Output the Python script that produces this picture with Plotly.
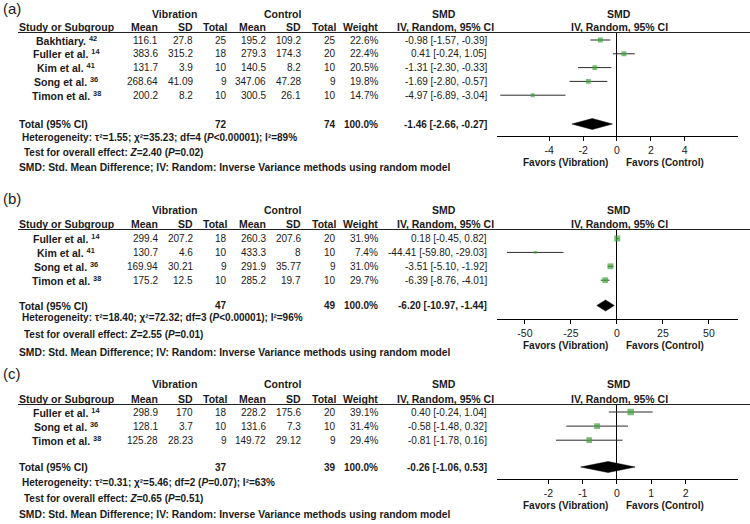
import plotly.graph_objects as go

W, H = 750, 524
FONT = "Liberation Sans, Arial, sans-serif"
TXT = "#1a1a1a"
GREEN = "#3fa33a"

# ===================== DATA =====================
# ---- Panel (a)
a_study = ["Bakhtiary.", "Fuller et al.", "Kim et al.", "Song et al.", "Timon et al."]
a_ref = ["42", "14", "41", "36", "38"]
a_vib_mean = [116.1, 383.6, 131.7, 268.64, 200.2]
a_vib_sd = [27.8, 315.2, 3.9, 41.09, 8.2]
a_vib_n = [25, 18, 10, 9, 10]
a_ctl_mean = [195.2, 279.3, 140.5, 347.06, 300.5]
a_ctl_sd = [109.2, 174.3, 8.2, 47.28, 26.1]
a_ctl_n = [25, 20, 10, 9, 10]
a_weight = [22.6, 22.4, 20.5, 19.8, 14.7]
a_smd = [-0.98, 0.41, -1.31, -1.69, -4.97]
a_lo = [-1.57, -0.24, -2.30, -2.80, -6.89]
a_hi = [-0.39, 1.05, -0.33, -0.57, -3.04]
a_total_n = [72, 74]
a_total_w = 100.0
a_total_smd = [-1.46, -2.66, -0.27]
a_het = ["1.55", "35.23", "4", "&lt;0.00001", "89"]
a_test = ["2.40", "0.02"]
a_ticks = [-4, -2, 0, 2, 4]

# ---- Panel (b)
b_study = ["Fuller et al.", "Kim et al.", "Song et al.", "Timon et al."]
b_ref = ["14", "41", "36", "38"]
b_vib_mean = [299.4, 130.7, 169.94, 175.2]
b_vib_sd = [207.2, 4.6, 30.21, 12.5]
b_vib_n = [18, 10, 9, 10]
b_ctl_mean = [260.3, 433.3, 291.9, 285.2]
b_ctl_sd = [207.6, 8, 35.77, 19.7]
b_ctl_n = [20, 10, 9, 10]
b_weight = [31.9, 7.4, 31.0, 29.7]
b_smd = [0.18, -44.41, -3.51, -6.39]
b_lo = [-0.45, -59.80, -5.10, -8.76]
b_hi = [0.82, -29.03, -1.92, -4.01]
b_total_n = [47, 49]
b_total_w = 100.0
b_total_smd = [-6.20, -10.97, -1.44]
b_het = ["18.40", "72.32", "3", "&lt;0.00001", "96"]
b_test = ["2.55", "0.01"]
b_ticks = [-50, -25, 0, 25, 50]

# ---- Panel (c)
c_study = ["Fuller et al.", "Song et al.", "Timon et al."]
c_ref = ["14", "36", "38"]
c_vib_mean = [298.9, 128.1, 125.28]
c_vib_sd = [170, 3.7, 28.23]
c_vib_n = [18, 10, 9]
c_ctl_mean = [228.2, 131.6, 149.72]
c_ctl_sd = [175.6, 7.3, 29.12]
c_ctl_n = [20, 10, 9]
c_weight = [39.1, 31.4, 29.4]
c_smd = [0.40, -0.58, -0.81]
c_lo = [-0.24, -1.48, -1.78]
c_hi = [1.04, 0.32, 0.16]
c_total_n = [37, 39]
c_total_w = 100.0
c_total_smd = [-0.26, -1.06, 0.53]
c_het = ["0.31", "5.46", "2", "=0.07", "63"]
c_test = ["0.65", "0.51"]
c_ticks = [-2, -1, 0, 1, 2]

# ===================== LAYOUT (pixel geometry) =====================
panels = [
    dict(label="(a)", study=a_study, ref=a_ref, vm=a_vib_mean, vs=a_vib_sd, vn=a_vib_n,
         cm=a_ctl_mean, cs=a_ctl_sd, cn=a_ctl_n, w=a_weight, smd=a_smd, lo=a_lo, hi=a_hi,
         tn=a_total_n, tw=a_total_w, ts=a_total_smd, het=a_het, test=a_test, ticks=a_ticks,
         xr=[-7.08, 7.14],
         label_y=8, group_y=14, header_y=27, rule_y=32.5, row0=40, step=13.8,
         total_y=124, het_y=137.5, test_y=152, foot_y=167.5, axis_y=136, favors_y=162),
    dict(label="(b)", study=b_study, ref=b_ref, vm=b_vib_mean, vs=b_vib_sd, vn=b_vib_n,
         cm=b_ctl_mean, cs=b_ctl_sd, cn=b_ctl_n, w=b_weight, smd=b_smd, lo=b_lo, hi=b_hi,
         tn=b_total_n, tw=b_total_w, ts=b_total_smd, het=b_het, test=b_test, ticks=b_ticks,
         xr=[-65.2, 65.8],
         label_y=198, group_y=210, header_y=224, rule_y=229.5, row0=238.5, step=13.9,
         total_y=305.5, het_y=317.5, test_y=334, foot_y=352.5, axis_y=319, favors_y=345),
    dict(label="(c)", study=c_study, ref=c_ref, vm=c_vib_mean, vs=c_vib_sd, vn=c_vib_n,
         cm=c_ctl_mean, cs=c_ctl_sd, cn=c_ctl_n, w=c_weight, smd=c_smd, lo=c_lo, hi=c_hi,
         tn=c_total_n, tw=c_total_w, ts=c_total_smd, het=c_het, test=c_test, ticks=c_ticks,
         xr=[-3.5, 3.53],
         label_y=373, group_y=384, header_y=398.5, rule_y=404.5, row0=412, step=14.1,
         total_y=467, het_y=482, test_y=498.5, foot_y=514, axis_y=479, favors_y=505),
]

# column anchors (px)
X_STUDY = 66
X_LEFT = 18
COLS = [159, 194, 228, 267, 302, 337]
X_WEIGHT = 379
X_SMD = 488
X_SMD_HDR = 444
X_FOREST_HDR = 619
FOREST_DOM = [497 / W, 738 / W]
HS = 10.5   # header / label font size

fig = go.Figure()
annotations = []
shapes = []


def txt(x, y, s, anchor="center", size=10, bold=False):
    if bold:
        s = "<b>" + s + "</b>"
    annotations.append(dict(x=x / W, y=1 - y / H, xref="paper", yref="paper", text=s,
                            showarrow=False, xanchor=anchor, yanchor="middle", borderpad=0,
                            font=dict(size=size, family=FONT, color=TXT)))


def fmt(v):
    return f"{v:g}"


for k, p in enumerate(panels, start=1):
    xa = "x" if k == 1 else f"x{k}"
    ya = "y" if k == 1 else f"y{k}"
    n = len(p["study"])
    idx = list(range(n))
    t_idx = (p["total_y"] - p["row0"]) / p["step"]

    # CI lines
    lx, ly = [], []
    for i in idx:
        lx += [p["lo"][i], p["hi"][i], None]
        ly += [i, i, None]
    fig.add_trace(go.Scatter(x=lx, y=ly, mode="lines", line=dict(color="#2b2b2b", width=1),
                             xaxis=xa, yaxis=ya, hoverinfo="skip", showlegend=False))
    # Squares (size by weight)
    fig.add_trace(go.Scatter(x=p["smd"], y=idx, mode="markers",
                             marker=dict(symbol="square", color=GREEN,
                                         size=[1.05 * wv ** 0.5 for wv in p["w"]],
                                         line=dict(width=0)),
                             xaxis=xa, yaxis=ya, showlegend=False))
    # Diamond
    mid, lo, hi = p["ts"]
    hh = 5.5 / p["step"]
    fig.add_trace(go.Scatter(x=[lo, mid, hi, mid, lo], y=[t_idx, t_idx - hh, t_idx, t_idx + hh, t_idx],
                             mode="lines", fill="toself", fillcolor="black",
                             line=dict(color="black", width=0.5),
                             xaxis=xa, yaxis=ya, hoverinfo="skip", showlegend=False))

    xkey = "xaxis" if k == 1 else f"xaxis{k}"
    ykey = "yaxis" if k == 1 else f"yaxis{k}"
    fig.layout[xkey] = dict(domain=FOREST_DOM, range=p["xr"], anchor=ya,
                            tickvals=p["ticks"], ticktext=[str(t) for t in p["ticks"]],
                            ticks="outside", ticklen=4, tickcolor="black", tickwidth=1,
                            showline=True, linecolor="black", linewidth=1,
                            zeroline=True, zerolinecolor="black", zerolinewidth=1,
                            showgrid=False, fixedrange=True,
                            tickfont=dict(size=10.5, family=FONT, color=TXT))
    fig.layout[ykey] = dict(domain=[1 - p["axis_y"] / H, 1 - p["rule_y"] / H],
                            range=[(p["axis_y"] - p["row0"]) / p["step"],
                                   (p["rule_y"] - p["row0"]) / p["step"]],
                            anchor=xa, visible=False, fixedrange=True)

    # Header rule
    shapes.append(dict(type="line", xref="paper", yref="paper", x0=X_LEFT / W, x1=1,
                       y0=1 - p["rule_y"] / H, y1=1 - p["rule_y"] / H,
                       line=dict(color="#222", width=1)))

    # Texts
    txt(2, p["label_y"], p["label"], anchor="left", size=15)
    txt(174, p["group_y"], "Vibration", size=HS, bold=True)
    txt(282, p["group_y"], "Control", size=HS, bold=True)
    txt(X_SMD_HDR, p["group_y"], "SMD", size=HS, bold=True)
    txt(X_FOREST_HDR, p["group_y"], "SMD", size=HS, bold=True)
    txt(X_LEFT, p["header_y"], "Study or Subgroup", anchor="left", size=HS, bold=True)
    for cx, h in zip(COLS, ["Mean", "SD", "Total", "Mean", "SD", "Total"]):
        txt(cx, p["header_y"], h, anchor="right", size=HS, bold=True)
    txt(X_WEIGHT, p["header_y"], "Weight", anchor="right", size=HS, bold=True)
    txt(X_SMD_HDR + 1, p["header_y"], "IV, Random, 95% CI", size=HS, bold=True)
    txt(X_FOREST_HDR, p["header_y"], "IV, Random, 95% CI", size=HS, bold=True)

    for i in idx:
        ry = p["row0"] + i * p["step"]
        txt(X_STUDY, ry, f"<b>{p['study'][i]}</b> <sup><b>{p['ref'][i]}</b></sup>", size=HS)
        vals = [fmt(p["vm"][i]), fmt(p["vs"][i]), str(p["vn"][i]),
                fmt(p["cm"][i]), fmt(p["cs"][i]), str(p["cn"][i])]
        for cx, v in zip(COLS, vals):
            txt(cx, ry, v, anchor="right")
        txt(X_WEIGHT, ry, f"{p['w'][i]:.1f}%", anchor="right")
        txt(X_SMD, ry, f"{p['smd'][i]:.2f} [{p['lo'][i]:.2f}, {p['hi'][i]:.2f}]", anchor="right")

    ty = p["total_y"]
    txt(X_LEFT, ty, "Total (95% CI)", anchor="left", size=HS, bold=True)
    txt(COLS[2], ty, str(p["tn"][0]), anchor="right", bold=True)
    txt(COLS[5], ty, str(p["tn"][1]), anchor="right", bold=True)
    txt(X_WEIGHT, ty, f"{p['tw']:.1f}%", anchor="right", bold=True)
    txt(X_SMD, ty, f"{mid:.2f} [{lo:.2f}, {hi:.2f}]", anchor="right", bold=True)

    tau2, chi2, df, pv, i2 = p["het"]
    txt(21, p["het_y"],
        f"Heterogeneity: τ²={tau2}; χ²={chi2}; df={df} (<i>P</i>{pv}); I²={i2}%",
        anchor="left", size=10, bold=True)
    z, pz = p["test"]
    txt(23, p["test_y"], f"Test for overall effect: <i>Z</i>={z} (<i>P</i>={pz})",
        anchor="left", bold=True)
    txt(X_LEFT, p["foot_y"],
        "SMD: Std. Mean Difference; IV: Random: Inverse Variance methods using random model",
        anchor="left", size=10.3, bold=True)
    txt(565, p["favors_y"], "Favors (Vibration)", bold=True)
    txt(665, p["favors_y"], "Favors (Control)", bold=True)

fig.update_layout(width=W, height=H, margin=dict(l=0, r=0, t=0, b=0),
                  paper_bgcolor="white", plot_bgcolor="white", showlegend=False,
                  annotations=annotations, shapes=shapes,
                  font=dict(family=FONT, color=TXT))

fig.write_html("out.html",
               config={"displayModeBar": False, "staticPlot": True},
               post_script="document.body.style.margin='0';document.body.style.overflow='hidden';")
